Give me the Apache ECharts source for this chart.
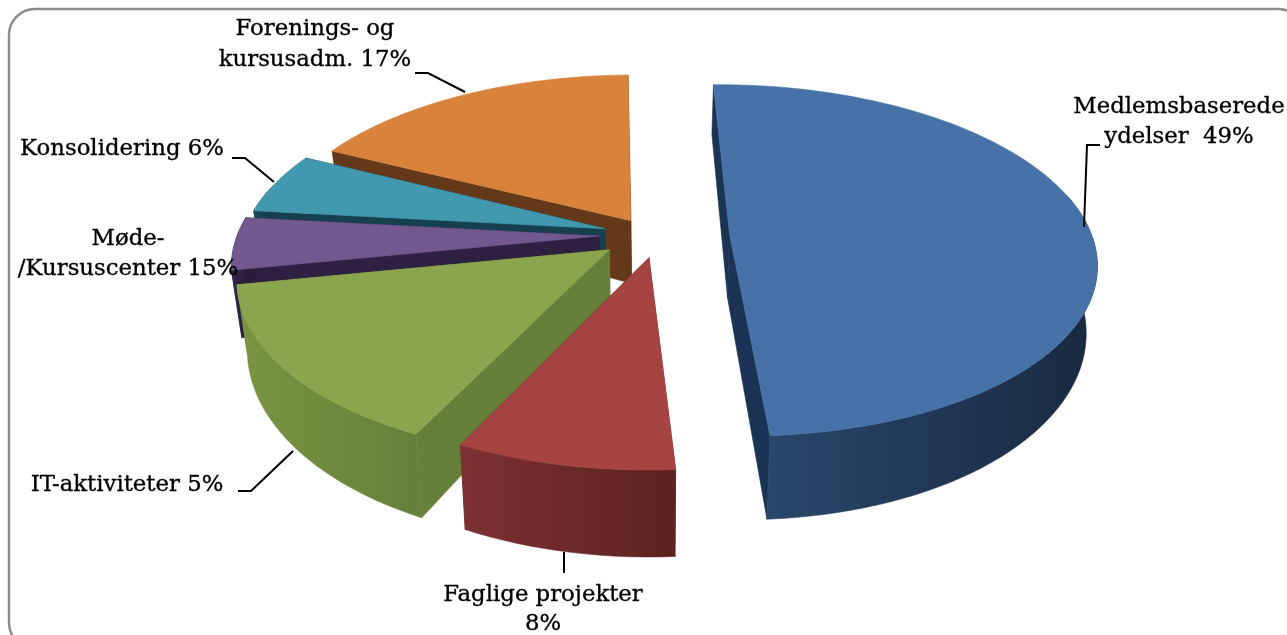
<!DOCTYPE html>
<html><head><meta charset="utf-8">
<style>html,body{margin:0;padding:0;background:#fff}#c{width:1287px;height:635px}</style>
<script src="https://cdn.jsdelivr.net/npm/echarts@6/dist/echarts.min.js"></script>
</head><body><div id="c"></div>
<script>
const categories = ['Medlemsbaserede ydelser','Faglige projekter','IT-aktiviteter','Møde-/Kursuscenter','Konsolidering','Forenings- og kursusadm.'];
const sliceShares = [49.3, 8.2, 14.7, 4.8, 5.6, 17.4];
const explode = [0.22, 0.13, 0.14, 0.14, 0.13, 0.10];
const explodeTurn = [0, -10, 0, 0, 0, 0];
const paintOrder = [3, 5, 4, 2, 1, 0];
const topColors = ['#4672A8','#A54441','#8BA54E','#71588F','#4198AF','#D9823B'];
const wallLeft = ['#2A466B','#7C3033','#7A9543','#33254A','#1A4A5A','#6A3C18'];
const wallRight = ['#18293F','#5D2221','#66803A','#2A1D3C','#153C4A','#5C3416'];
const radialColors = ['#1B3354','#6E2B2B','#66803A','#2E2040','#16404E','#63391A'];
const labelLines = [['Medlemsbaserede','ydelser  49%'],['Faglige projekter','8%'],['IT-aktiviteter 5%'],['Møde-','/Kursuscenter 15%'],['Konsolidering 6%'],['Forenings- og','kursusadm. 17%']];

const firstAngle = -1;
const cx = 650, cy = 235, Rx = 362, Ry = 172, persp = 0.153;
const proj = (X, Y) => { const w = 1 - persp * Y; return [cx + Rx * X / w, cy + Ry * Y / w]; };
const drop = p => [cx + (p[0] - cx) * 0.975, p[1] + 67 + (p[1] - 265) * 0.0976];
const total = sliceShares.reduce((a, b) => a + b, 0);
const rad = d => d * Math.PI / 180;

function renderItem(params, api) {
  const i = params.dataIndex;
  let before = 0;
  for (let k = 0; k < i; k++) before += sliceShares[k];
  const a0 = firstAngle + before / total * 360;
  const a1 = a0 + api.value(0) / total * 360;
  const mid = rad((a0 + a1) / 2 + explodeTurn[i]);
  const ox = explode[i] * Math.sin(mid), oy = -explode[i] * Math.cos(mid);
  const arc = [], front = [];
  const n = Math.max(8, Math.round((a1 - a0) / 2));
  for (let k = 0; k <= n; k++) {
    const t = rad(a0 + (a1 - a0) * k / n);
    const p = proj(ox + Math.sin(t), oy - Math.cos(t));
    arc.push(p);
    if (-Math.cos(t) > -0.25) front.push(p);   // only the part of the rim that faces the viewer
  }
  const apex = proj(ox, oy);
  const arcB = arc.map(drop), apexB = drop(apex);
  const base = paintOrder[i] * 10;
  const poly = (points, fill, z) => ({
    type: 'polygon', shape: { points }, z2: base + z, silent: true,
    style: { fill, stroke: fill, lineWidth: 0.6 }
  });
  const children = [
    poly([apex, arc[0], arcB[0], apexB], radialColors[i], 0),
    poly([apex, arc[n], arcB[n], apexB], radialColors[i], 1)
  ];
  if (front.length > 1) {
    const xs = front.map(p => p[0]);
    const grad = new echarts.graphic.LinearGradient(Math.min(...xs), 0, Math.max(...xs), 0,
      [{ offset: 0, color: wallLeft[i] }, { offset: 1, color: wallRight[i] }], true);
    children.push(poly(front.concat(front.map(drop).reverse()), grad, 2));
  }
  children.push(poly([apex].concat(arc), topColors[i], 3));
  return { type: 'group', children };
}

const labelSpec = [
  { x: 1179, y: [107, 137] }, { x: 543, y: [595, 624] }, { x: 127, y: [485] },
  { x: 128, y: [239, 269] }, { x: 122, y: [149] }, { x: 315, y: [29, 60] }
];
const leaderLines = [
  [[1100,145],[1087,145],[1084,227]], [[564,552],[564,573]], [[238,491],[251,491],[293,451]],
  [[232,158],[245,158],[274,182]], [[415,73],[428,73],[465,92]]
];
const graphics = [{
  type: 'rect', z: 0, silent: true,
  shape: { x: 9, y: 9, width: 1295, height: 640, r: 26 },
  style: { fill: '#fff', stroke: '#8C8C8C', lineWidth: 2.4 }
}];
leaderLines.forEach(pts => graphics.push({
  type: 'polyline', z: 20, silent: true, shape: { points: pts },
  style: { stroke: '#000', lineWidth: 2, fill: null }
}));
labelLines.forEach((lines, i) => lines.forEach((t, j) => graphics.push({
  type: 'text', z: 21, silent: true, x: labelSpec[i].x, y: labelSpec[i].y[j],
  style: { text: t, fill: '#000', stroke: '#000', lineWidth: 0.35, font: '22.8px "DejaVu Serif"', align: 'center', verticalAlign: 'middle' }
})));

const chart = echarts.init(document.getElementById('c'), null, { renderer: 'canvas' });
chart.setOption({
  animation: false,
  graphic: graphics,
  series: [{
    type: 'custom', coordinateSystem: 'none', z: 5, renderItem,
    encode: { value: 0 }, silent: true,
    data: sliceShares.map((v, i) => ({ name: categories[i], value: [v] }))
  }]
});
</script></body></html>
